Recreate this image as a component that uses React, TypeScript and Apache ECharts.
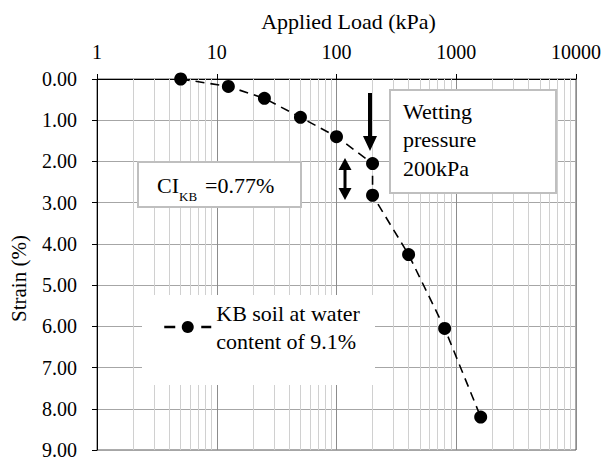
import React, { useEffect, useRef } from 'react';
import * as echarts from 'echarts';

// ---- data ----
const loads = [5, 12.5, 25, 50, 100, 200, 200, 400, 800, 1600];
const strains = [0, 0.18, 0.47, 0.93, 1.4, 2.05, 2.82, 4.26, 6.05, 8.2];
const seriesName = 'KB soil at water\ncontent of 9.1%';
const decades = [1, 10, 100, 1000];
const minorMultipliers = [2, 3, 4, 5, 6, 7, 8, 9];
const wettingLines = ['Wetting', 'pressure', '200kPa'];

const FONT = '"Liberation Serif", "Times New Roman", serif';

export default function App() {
  const ref = useRef<HTMLDivElement>(null);

  useEffect(() => {
    if (!ref.current) return;
    const chart = echarts.init(ref.current, null, { renderer: 'svg' });

    const minorValues: number[] = [];
    decades.forEach((d) => minorMultipliers.forEach((m) => minorValues.push(d * m)));

    const option: any = {
      animation: false,
      backgroundColor: '#ffffff',
      textStyle: { fontFamily: FONT },
      grid: {
        left: 97,
        right: 28,
        top: 79,
        bottom: 11,
        show: true,
        borderColor: '#595959',
        borderWidth: 1,
        backgroundColor: 'transparent',
      },
      xAxis: {
        type: 'log',
        logBase: 10,
        min: 1,
        max: 10000,
        position: 'top',
        name: 'Applied Load (kPa)',
        nameLocation: 'middle',
        nameGap: 47,
        nameTextStyle: { fontFamily: FONT, fontSize: 22, color: '#000', padding: [0, 0, 0, 24] },
        axisLine: { show: true, onZero: false, lineStyle: { color: '#000', width: 1 } },
        axisTick: { show: true, inside: false, length: 5, lineStyle: { color: '#000' } },
        axisLabel: {
          fontFamily: FONT,
          fontSize: 20,
          color: '#000',
          margin: 17,
          formatter: (v: number) => String(Math.round(v)),
        },
        splitLine: { show: true, lineStyle: { color: '#8c8c8c', width: 1 } },
        minorTick: { show: false },
        minorSplitLine: { show: false },
      },
      yAxis: {
        type: 'value',
        inverse: true,
        min: 0,
        max: 9,
        interval: 1,
        name: 'Strain (%)',
        nameLocation: 'middle',
        nameGap: 68,
        nameRotate: 90,
        nameTextStyle: { fontFamily: FONT, fontSize: 21, color: '#000', padding: [0, 28, 0, 0] },
        axisLine: { show: true, onZero: false, lineStyle: { color: '#000', width: 1 } },
        axisTick: { show: true, inside: false, length: 5, lineStyle: { color: '#000' } },
        axisLabel: {
          fontFamily: FONT,
          fontSize: 20,
          color: '#000',
          margin: 20,
          showMinLabel: true,
          showMaxLabel: true,
          formatter: (v: number) => v.toFixed(2),
        },
        splitLine: { show: true, lineStyle: { color: '#a6a6a6', width: 1 } },
      },
      legend: {
        show: true,
        data: [seriesName],
        left: 163,
        top: 285,
        orient: 'vertical',
        padding: 0,
        itemWidth: 47,
        itemHeight: 15,
        itemGap: 0,
        selectedMode: false,
        lineStyle: { type: [11, 26], width: 2.5, color: '#000' },
        itemStyle: { color: '#000' },
        textStyle: {
          fontFamily: FONT,
          fontSize: 22,
          lineHeight: 28,
          color: '#000',
          padding: [28, 0, 0, 0],
        },
      },
      graphic: [
        // legend background
        { type: 'rect', z: 3, shape: { x: 142, y: 295, width: 233, height: 90 }, style: { fill: '#fff' } },
        // wetting pressure box
        {
          type: 'rect',
          z: 20,
          shape: { x: 390, y: 90, width: 166, height: 103 },
          style: { fill: '#fff', stroke: '#bfbfbf', lineWidth: 2 },
        },
        {
          type: 'text',
          z: 21,
          x: 403,
          y: 97,
          style: {
            text: wettingLines.join('\n'),
            fontFamily: FONT,
            fontSize: 22,
            lineHeight: 28.5,
            fill: '#000',
            verticalAlign: 'top',
            align: 'left',
          },
        },
        // CI box
        {
          type: 'rect',
          z: 20,
          shape: { x: 138, y: 162, width: 163, height: 45 },
          style: { fill: '#fff', stroke: '#bfbfbf', lineWidth: 2 },
        },
        {
          type: 'text',
          z: 21,
          x: 157,
          y: 185,
          style: { text: 'CI', fontFamily: FONT, fontSize: 22, fill: '#000', verticalAlign: 'middle' },
        },
        {
          type: 'text',
          z: 21,
          x: 179,
          y: 196,
          style: { text: 'KB', fontFamily: FONT, fontSize: 13, fill: '#000', verticalAlign: 'middle' },
        },
        {
          type: 'text',
          z: 21,
          x: 205,
          y: 185,
          style: { text: '=0.77%', fontFamily: FONT, fontSize: 22, fill: '#000', verticalAlign: 'middle' },
        },
        // down arrow
        { type: 'rect', z: 21, shape: { x: 368, y: 93, width: 4, height: 44 }, style: { fill: '#000' } },
        {
          type: 'polygon',
          z: 21,
          shape: { points: [[363, 136], [377, 136], [370, 151]] },
          style: { fill: '#000' },
        },
        // double arrow
        { type: 'rect', z: 21, shape: { x: 343.5, y: 169, width: 3, height: 20 }, style: { fill: '#000' } },
        {
          type: 'polygon',
          z: 21,
          shape: { points: [[338.5, 170], [351.5, 170], [345, 158]] },
          style: { fill: '#000' },
        },
        {
          type: 'polygon',
          z: 21,
          shape: { points: [[338.5, 188], [351.5, 188], [345, 200]] },
          style: { fill: '#000' },
        },
      ],
      series: [
        {
          type: 'line',
          name: seriesName,
          data: loads.map((x, i) => [x, strains[i]]),
          symbol: 'circle',
          symbolSize: 13,
          z: 2,
          itemStyle: { color: '#000' },
          lineStyle: { color: '#000', width: 1.6, type: [9, 6] },
          markLine: {
            silent: true,
            z: 1,
            symbol: ['none', 'none'],
            label: { show: false },
            lineStyle: { color: '#d0d0d0', type: 'solid', width: 1 },
            data: minorValues.map((v) => ({ xAxis: v })),
          },
        },
      ],
    };

    chart.setOption(option);
    return () => chart.dispose();
  }, []);

  return (
    <div
      ref={ref}
      style={{ position: 'fixed', left: 0, top: 0, width: 604, height: 461, background: '#fff' }}
    />
  );
}
